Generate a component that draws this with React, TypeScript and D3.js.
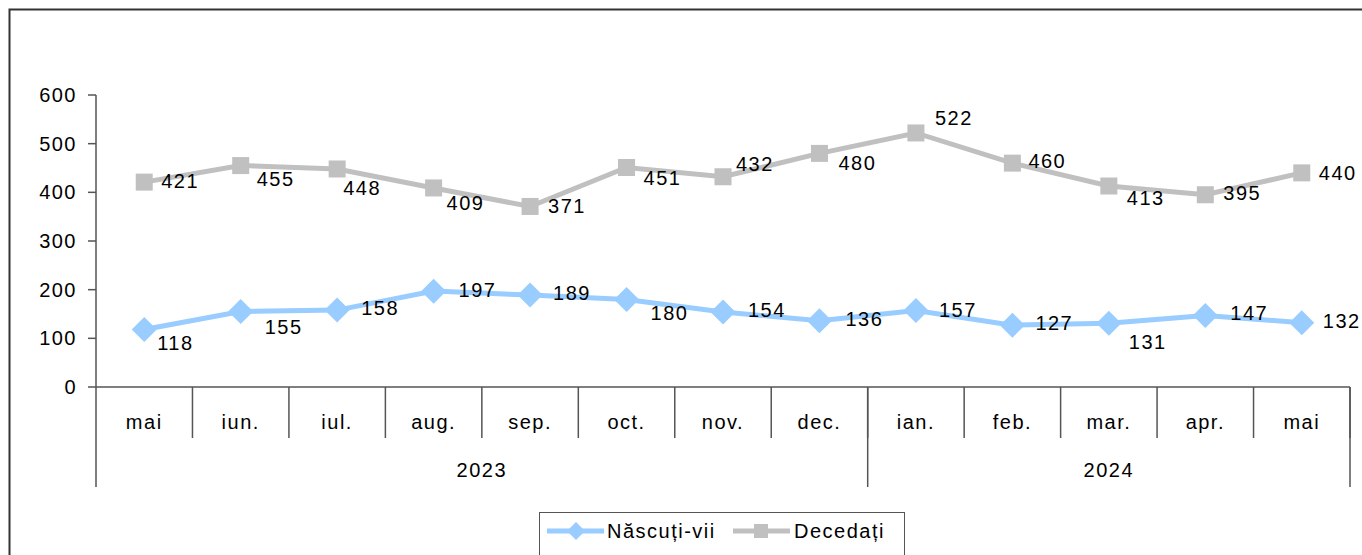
import React from "react";
import * as d3 from "d3";

const months = ["mai", "iun.", "iul.", "aug.", "sep.", "oct.", "nov.", "dec.", "ian.", "feb.", "mar.", "apr.", "mai"];
const years = [
  { label: "2023", from: 0, to: 7 },
  { label: "2024", from: 8, to: 12 },
];
const nascuti = [118, 155, 158, 197, 189, 180, 154, 136, 157, 127, 131, 147, 132];
const decedati = [421, 455, 448, 409, 371, 451, 432, 480, 522, 460, 413, 395, 440];
const yTicks = [0, 100, 200, 300, 400, 500, 600];

// manual nudges of the value labels (dx, dy from the point), as in the original sheet
const nascutiNudge = [[13, 13], [24, 15], [24, -2], [25, -1], [23, -2], [24, 14], [25, -2], [26, -2], [23, -1], [23, -2], [20, 19], [25, -2], [21, -2]];
const decedatiNudge = [[17, -1], [16, 13], [6, 19], [13, 15], [18, 0], [17, 10], [13, -13], [19, 10], [19, -15], [16, -2], [18, 12], [18, -2], [17, 0]];

const CFG = {
  width: 1362,
  height: 555,
  left: 96,
  right: 1350,
  top: 95,
  zero: 387,
  monthRow: 438,
  yearRow: 487,
  font: "'Liberation Sans', Arial, sans-serif",
  fontSize: 20,
  spacing: 1.5,
  blue: "#99CCFF",
  grey: "#C0C0C0",
  axis: "#555",
};

const App = () => {
  const x = d3
    .scaleBand<number>()
    .domain(d3.range(months.length))
    .range([CFG.left, CFG.right]);
  const y = d3.scaleLinear().domain([0, 600]).range([CFG.zero, CFG.top]);
  const cx = (i: number) => (x(i) ?? 0) + x.bandwidth() / 2;

  const line = d3
    .line<number>()
    .x((_, i) => cx(i))
    .y((d) => y(d));

  const diamond = (px: number, py: number, r: number) =>
    `M${px},${py - r}L${px + r},${py}L${px},${py + r}L${px - r},${py}Z`;

  return (
    <svg
      width={CFG.width}
      height={CFG.height}
      style={{ position: "absolute", left: 0, top: 0, display: "block" }}
      fontFamily={CFG.font}
      fontSize={CFG.fontSize}
      letterSpacing={CFG.spacing}
    >
      <rect x={0} y={0} width={CFG.width} height={CFG.height} fill="#fff" />
      {/* outer frame, runs off the right and bottom edges */}
      <rect x={9.5} y={9.5} width={1420} height={620} fill="none" stroke="#333" strokeWidth={2} />

      {/* y axis */}
      <line x1={CFG.left} x2={CFG.left} y1={CFG.top} y2={CFG.yearRow} stroke={CFG.axis} strokeWidth={1.5} />
      {yTicks.map((t) => (
        <g key={t}>
          <line x1={CFG.left - 8} x2={CFG.left} y1={y(t)} y2={y(t)} stroke={CFG.axis} strokeWidth={1.5} />
          <text x={77} y={y(t)} dy="0.35em" textAnchor="end" fill="#000">
            {t}
          </text>
        </g>
      ))}

      {/* category axis */}
      <line x1={CFG.left} x2={CFG.right} y1={CFG.zero} y2={CFG.zero} stroke={CFG.axis} strokeWidth={1.5} />
      {months.map((m, i) => (
        <g key={i}>
          <line
            x1={(x(i) ?? 0) + x.bandwidth()}
            x2={(x(i) ?? 0) + x.bandwidth()}
            y1={CFG.zero}
            y2={CFG.monthRow}
            stroke={CFG.axis}
            strokeWidth={1.5}
          />
          <text x={cx(i)} y={422} dy="0.35em" textAnchor="middle" fill="#000">
            {m}
          </text>
        </g>
      ))}
      {years.map((yr) => {
        const x0 = x(yr.from) ?? 0;
        const x1 = (x(yr.to) ?? 0) + x.bandwidth();
        return (
          <g key={yr.label}>
            <line x1={x1} x2={x1} y1={CFG.zero} y2={CFG.yearRow} stroke={CFG.axis} strokeWidth={1.5} />
            <text x={(x0 + x1) / 2} y={470} dy="0.35em" textAnchor="middle" fill="#000">
              {yr.label}
            </text>
          </g>
        );
      })}

      {/* series */}
      <path d={line(decedati) ?? ""} fill="none" stroke={CFG.grey} strokeWidth={5} />
      <path d={line(nascuti) ?? ""} fill="none" stroke={CFG.blue} strokeWidth={5} />
      {decedati.map((v, i) => (
        <rect key={i} x={cx(i) - 8.5} y={y(v) - 8.5} width={17} height={17} fill={CFG.grey} />
      ))}
      {nascuti.map((v, i) => (
        <path key={i} d={diamond(cx(i), y(v), 12.5)} fill={CFG.blue} />
      ))}

      {/* value labels */}
      {decedati.map((v, i) => (
        <text key={i} x={cx(i) + decedatiNudge[i][0]} y={y(v) + decedatiNudge[i][1]} dy="0.35em" fill="#000">
          {v}
        </text>
      ))}
      {nascuti.map((v, i) => (
        <text key={i} x={cx(i) + nascutiNudge[i][0]} y={y(v) + nascutiNudge[i][1]} dy="0.35em" fill="#000">
          {v}
        </text>
      ))}

      {/* legend */}
      <g>
        <rect x={539.5} y={512.5} width={365} height={50} fill="#fff" stroke="#555" strokeWidth={1} />
        <line x1={547} x2={604} y1={531} y2={531} stroke={CFG.blue} strokeWidth={5} />
        <path d={diamond(576, 531, 9)} fill={CFG.blue} />
        <text x={607} y={531} dy="0.35em" fill="#000">Născuți-vii</text>
        <line x1={733} x2={790} y1={531} y2={531} stroke={CFG.grey} strokeWidth={5} />
        <rect x={754} y={524} width={14} height={14} fill={CFG.grey} />
        <text x={794} y={531} dy="0.35em" fill="#000">Decedați</text>
      </g>
    </svg>
  );
};

export default App;
